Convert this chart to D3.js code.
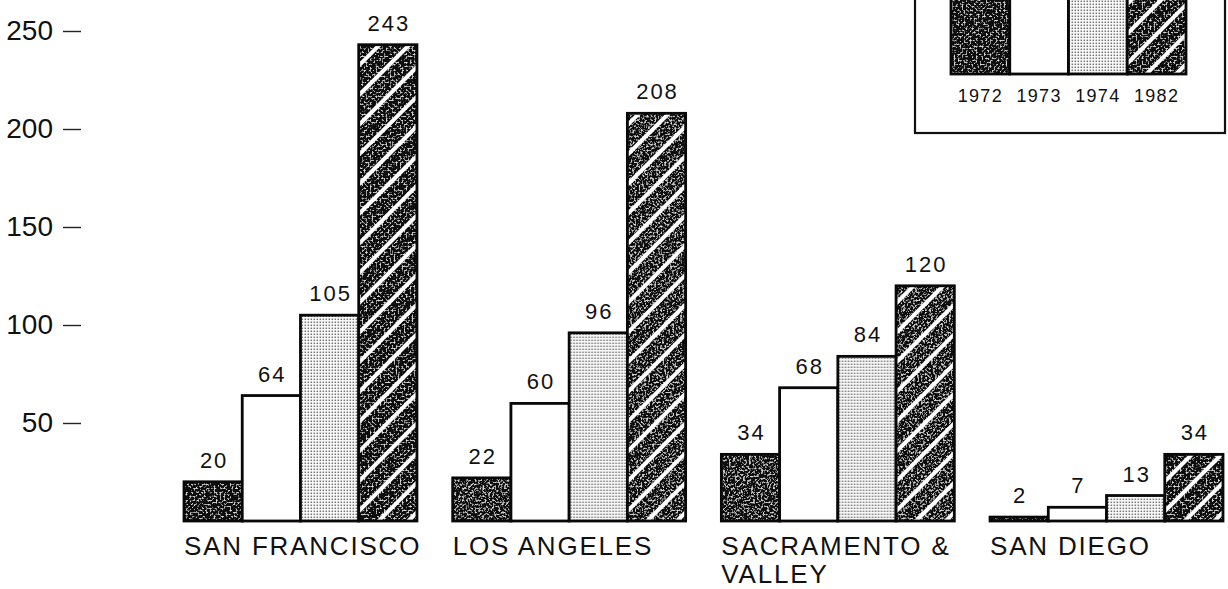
<!DOCTYPE html>
<html>
<head>
<meta charset="utf-8">
<script src="https://cdn.jsdelivr.net/npm/d3@7"></script>
<style>
  html, body { margin: 0; padding: 0; background: #fff; }
  svg { display: block; font-family: "Liberation Sans", Arial, Helvetica, sans-serif; }
</style>
</head>
<body>
<svg id="chart" width="1228" height="589"></svg>
<script>
// Regions and years
const categories = ["SAN FRANCISCO", "LOS ANGELES", "SACRAMENTO & VALLEY", "SAN DIEGO"];
const categoryLines = [["SAN FRANCISCO"], ["LOS ANGELES"], ["SACRAMENTO &", "VALLEY"], ["SAN DIEGO"]];
const years = ["1972", "1973", "1974", "1982"];

// Values per year, one entry per region
const values1972 = [20, 22, 34, 2];
const values1973 = [64, 60, 68, 7];
const values1974 = [105, 96, 84, 13];
const values1982 = [243, 208, 120, 34];

const yTickValues = [50, 100, 150, 200, 250];

const seriesByYear = { "1972": values1972, "1973": values1973, "1974": values1974, "1982": values1982 };

const svg = d3.select("#chart");
const defs = svg.append("defs");

// Grainy dark fill: black with light mottling from fractal noise
const speckle = defs.append("filter")
  .attr("id", "speckle")
  .attr("filterUnits", "objectBoundingBox")
  .attr("x", 0).attr("y", 0).attr("width", 1).attr("height", 1);
speckle.append("feTurbulence")
  .attr("type", "fractalNoise").attr("baseFrequency", 0.5)
  .attr("numOctaves", 3).attr("seed", 11).attr("result", "noise");
speckle.append("feColorMatrix")
  .attr("in", "noise").attr("type", "matrix")
  .attr("values", "0 0 0 0 0.66  0 0 0 0 0.66  0 0 0 0 0.66  5 0 0 0 -2.6")
  .attr("result", "specks");
speckle.append("feComposite")
  .attr("in", "specks").attr("in2", "SourceGraphic").attr("operator", "in")
  .attr("result", "clipped");
const merge = speckle.append("feMerge");
merge.append("feMergeNode").attr("in", "SourceGraphic");
merge.append("feMergeNode").attr("in", "clipped");

// Fine stipple for 1974
const dots = defs.append("pattern")
  .attr("id", "dots").attr("patternUnits", "userSpaceOnUse")
  .attr("width", 3).attr("height", 3);
dots.append("rect").attr("width", 3).attr("height", 3).attr("fill", "#f6f6f6");
dots.append("rect").attr("x", 0.6).attr("y", 0.6).attr("width", 1.4).attr("height", 1.4).attr("fill", "#707070");

// White diagonal hatching for 1982
const stripes = defs.append("pattern")
  .attr("id", "stripes").attr("patternUnits", "userSpaceOnUse")
  .attr("width", 21).attr("height", 21)
  .attr("patternTransform", "rotate(45)");
stripes.append("rect").attr("x", 0).attr("y", 0).attr("width", 4).attr("height", 21).attr("fill", "#fff");

// Draws one bar-shaped swatch in the style of the given year
function drawSwatch(g, year, x, y, w, h) {
  if (year === "1972" || year === "1982") {
    g.append("rect").attr("x", x).attr("y", y).attr("width", w).attr("height", h)
      .attr("fill", "#080808").attr("filter", "url(#speckle)");
    if (year === "1982") {
      g.append("rect").attr("x", x).attr("y", y).attr("width", w).attr("height", h)
        .attr("fill", "url(#stripes)");
    }
  } else if (year === "1973") {
    g.append("rect").attr("x", x).attr("y", y).attr("width", w).attr("height", h).attr("fill", "#fff");
  } else {
    g.append("rect").attr("x", x).attr("y", y).attr("width", w).attr("height", h).attr("fill", "url(#dots)");
  }
  g.append("rect").attr("x", x).attr("y", y).attr("width", w).attr("height", h)
    .attr("fill", "none").attr("stroke", "#080808").attr("stroke-width", 2.8);
}

// Scales
const x0 = d3.scaleBand().domain(categories).range([184, 1223]).paddingInner(0.133).paddingOuter(0);
const x1 = d3.scaleBand().domain(years).range([0, x0.bandwidth()]).padding(0);
const y = d3.scaleLinear().domain([0, 250]).range([521, 31]);

// Y axis: short dashes with labels, no spine
const yAxis = svg.append("g")
  .attr("transform", "translate(81,0)")
  .call(d3.axisLeft(y).tickValues(yTickValues).tickSize(18).tickPadding(10).tickFormat(d3.format("d")));
yAxis.select(".domain").remove();
yAxis.selectAll(".tick line").attr("stroke", "#222").attr("stroke-width", 1.4);
yAxis.selectAll(".tick text")
  .attr("fill", "#111").attr("font-size", 28)
  .attr("font-family", "'Liberation Sans', Arial, sans-serif");

// Bars
categories.forEach((cat, ci) => {
  const g = svg.append("g").attr("transform", `translate(${x0(cat)},0)`);
  years.forEach(yr => {
    const v = seriesByYear[yr][ci];
    drawSwatch(g, yr, x1(yr), y(v), x1.bandwidth(), y(0) - y(v));
  });
  years.forEach(yr => {
    const v = seriesByYear[yr][ci];
    g.append("text")
      .attr("x", x1(yr) + x1.bandwidth() / 2 + 1)
      .attr("y", y(v) - 14)
      .attr("text-anchor", "middle")
      .attr("font-size", 22)
      .attr("letter-spacing", 2)
      .attr("fill", "#111")
      .text(v);
  });
  const lbl = g.append("text")
    .attr("x", 0).attr("y", 555)
    .attr("font-size", 26).attr("letter-spacing", 1.8).attr("fill", "#111");
  categoryLines[ci].forEach((line, li) => {
    lbl.append("tspan").attr("x", 0).attr("dy", li === 0 ? 0 : 28).text(line);
  });
});

// Legend box in the upper right corner
const legend = svg.append("g");
legend.append("rect")
  .attr("x", 915).attr("y", -10).attr("width", 310).attr("height", 143)
  .attr("fill", "#fff").attr("stroke", "#111").attr("stroke-width", 2.2);
const lx = d3.scaleBand().domain(years).range([951, 1186]).padding(0);
years.forEach(yr => {
  drawSwatch(legend, yr, lx(yr), -10, lx.bandwidth(), 84);
  legend.append("text")
    .attr("x", lx(yr) + lx.bandwidth() / 2).attr("y", 102)
    .attr("text-anchor", "middle").attr("font-size", 18).attr("letter-spacing", 1.3)
    .attr("fill", "#111").text(yr);
});
</script>
</body>
</html>
